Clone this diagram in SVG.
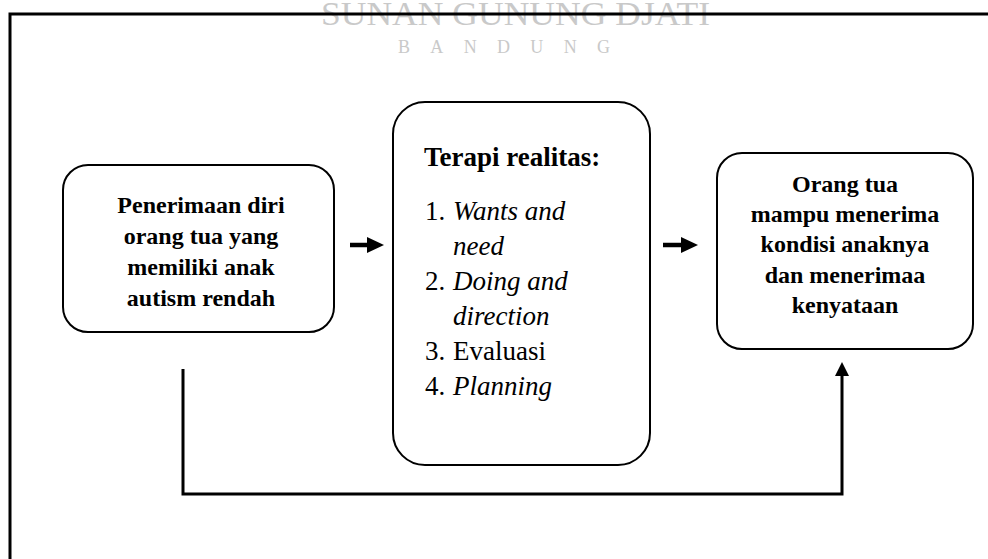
<svg xmlns="http://www.w3.org/2000/svg" width="988" height="559" viewBox="0 0 988 559">
<style>
.box{fill:#fff;stroke:#000;stroke-width:2}
.t{font-family:"Liberation Serif","Times New Roman",serif;fill:#000}
.b{font-weight:bold;font-size:24px;text-anchor:middle}
.h{font-weight:bold;font-size:27px}
.li{font-size:27px}
.i{font-style:italic}
.wm{font-family:"Liberation Serif",serif;fill:#c9c9c9}
.line{fill:none;stroke:#000;stroke-width:3}
</style>
<rect width="988" height="559" fill="#fff"/>
<g id="watermark">
<text class="wm" x="321" y="25" font-size="34" textLength="389" lengthAdjust="spacingAndGlyphs">SUNAN GUNUNG DJATI</text>
<text class="wm" x="398" y="53" font-size="18" textLength="212" lengthAdjust="spacing">BANDUNG</text>
</g>
<path d="M10,559 V14 H988" fill="none" stroke="#000" stroke-width="3"/>
<g id="node1">
<rect class="box" x="63" y="165" width="271" height="167" rx="25"/>
<text class="t b"><tspan x="201" y="213">Penerimaan diri</tspan><tspan x="201" y="244">orang tua yang</tspan><tspan x="201" y="275">memiliki anak</tspan><tspan x="201" y="306">autism rendah</tspan></text>
</g>
<g id="node2">
<rect class="box" x="393" y="102" width="257" height="363" rx="32"/>
<text class="t h" x="424" y="166">Terapi realitas:</text>
<text class="t li"><tspan x="425" y="220">1.</tspan><tspan x="453" y="220" class="i">Wants and</tspan><tspan x="453" y="255" class="i">need</tspan><tspan x="425" y="290">2.</tspan><tspan x="453" y="290" class="i">Doing and</tspan><tspan x="453" y="325" class="i">direction</tspan><tspan x="425" y="360">3.</tspan><tspan x="453" y="360">Evaluasi</tspan><tspan x="425" y="395">4.</tspan><tspan x="453" y="395" class="i">Planning</tspan></text>
</g>
<g id="node3">
<rect class="box" x="717" y="153" width="256" height="196" rx="25"/>
<text class="t b"><tspan x="845" y="192">Orang tua</tspan><tspan x="845" y="222">mampu menerima</tspan><tspan x="845" y="252">kondisi anaknya</tspan><tspan x="845" y="283">dan menerimaa</tspan><tspan x="845" y="313">kenyataan</tspan></text>
</g>
<g id="connectors">
<line x1="350" y1="245" x2="369" y2="245" stroke="#000" stroke-width="4.5"/>
<polygon points="367,237 384,245 367,253" fill="#000"/>
<line x1="663" y1="245" x2="682" y2="245" stroke="#000" stroke-width="4.5"/>
<polygon points="681,237 698,245 681,253" fill="#000"/>
<polyline class="line" points="183,369 183,494 842,494 842,374"/>
<polygon points="835,376 842,362 849,376" fill="#000"/>
</g>
</svg>
